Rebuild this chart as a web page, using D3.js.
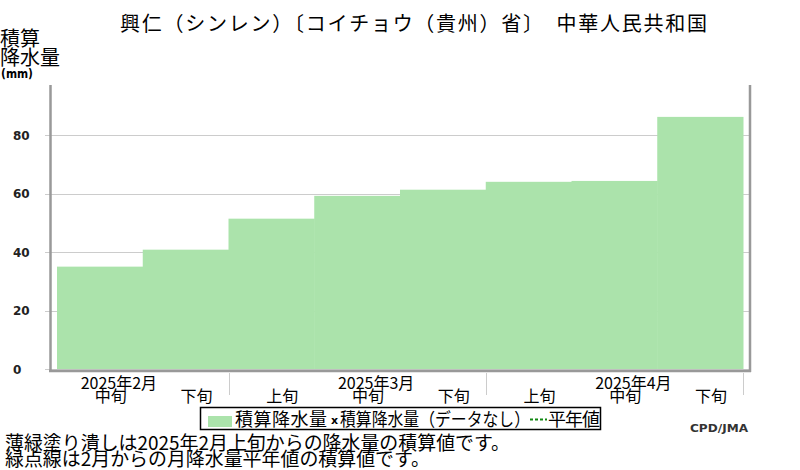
<!DOCTYPE html>
<html>
<head>
<meta charset="utf-8">
<script src="https://cdn.jsdelivr.net/npm/d3@7"></script>
<style>
  body { margin: 0; background: #fff; }
  svg { display: block; font-family: "Noto Sans CJK JP", sans-serif; }
</style>
</head>
<body>
<svg id="chart" width="800" height="470"></svg>
<script>
// data
const decadeIds = ["2-2", "2-3", "3-1", "3-2", "3-3", "4-1", "4-2", "4-3"];
const decadeLabels = ["中旬", "下旬", "上旬", "中旬", "下旬", "上旬", "中旬", "下旬"];
const monthLabels = ["2025年2月", "2025年3月", "2025年4月"];
const monthAt = ["2-2", "3-2", "4-2"];       // month label sits over the 中旬 bar
const monthStarts = ["3-1", "4-1"];          // separators
const precip = [35.0, 40.8, 51.4, 59.2, 61.3, 64.0, 64.3, 86.2];
const yTicks = [0, 20, 40, 60, 80];

const svg = d3.select("#chart");

const x = d3.scaleBand().domain(decadeIds).range([57, 743]).padding(0);
const y = d3.scaleLinear().domain([0, 97.1]).range([369, 85]);

// title
svg.append("text")
  .attr("x", 120).attr("y", 31)
  .attr("font-size", 20)
  .attr("textLength", 587).attr("lengthAdjust", "spacing")
  .text("興仁（シンレン）〔コイチョウ（貴州）省〕　中華人民共和国");

// y title
svg.append("text").attr("x", 0).attr("y", 46).attr("font-size", 20).text("積算");
svg.append("text").attr("x", 0).attr("y", 65).attr("font-size", 20).text("降水量");
svg.append("text").attr("x", 1).attr("y", 78)
  .attr("font-family", "DejaVu Sans").attr("font-weight", "bold")
  .attr("font-size", 12)
  .attr("textLength", 32).attr("lengthAdjust", "spacingAndGlyphs")
  .text("(mm)");

// grid + ticks
svg.append("g").selectAll("line")
  .data(yTicks)
  .enter().append("line")
  .attr("x1", 45).attr("x2", 749)
  .attr("y1", d => Math.round(y(d)) + 0.5)
  .attr("y2", d => Math.round(y(d)) + 0.5)
  .attr("stroke", "#cccccc").attr("stroke-width", 1);

svg.append("g").selectAll("text")
  .data(yTicks)
  .enter().append("text")
  .attr("x", 13)
  .attr("y", d => y(d) + 4.5)
  .attr("font-family", "DejaVu Sans").attr("font-weight", "bold")
  .attr("font-size", 12).attr("fill", "#222")
  .text(d => d);

// bars
svg.append("g").selectAll("rect")
  .data(precip)
  .enter().append("rect")
  .attr("x", (d, i) => x(decadeIds[i]))
  .attr("width", x.bandwidth() + 0.5)
  .attr("y", d => y(d))
  .attr("height", d => y(0) - y(d))
  .attr("fill", "#abe3ab");

// frame
const frame = svg.append("g").attr("stroke", "#999").attr("stroke-width", 2.5).attr("fill", "none");
frame.append("line").attr("x1", 50.5).attr("x2", 50.5).attr("y1", 85).attr("y2", 372);
frame.append("line").attr("x1", 750).attr("x2", 750).attr("y1", 85).attr("y2", 372);
frame.append("line").attr("x1", 49).attr("x2", 751).attr("y1", 371).attr("y2", 371);

// month separators
const seps = monthStarts.map(id => x(id)).concat([x.range()[1]]);
svg.append("g").selectAll("line")
  .data(seps)
  .enter().append("line")
  .attr("x1", d => Math.round(d) + 0.5).attr("x2", d => Math.round(d) + 0.5)
  .attr("y1", 373).attr("y2", 395)
  .attr("stroke", "#cccccc");

// x labels
svg.append("g").selectAll("text")
  .data(decadeLabels)
  .enter().append("text")
  .attr("x", (d, i) => x(decadeIds[i]) + x.bandwidth() / 2 + 11)
  .attr("y", 402)
  .attr("text-anchor", "middle")
  .attr("font-size", 16)
  .text(d => d);

svg.append("g").selectAll("text")
  .data(monthLabels)
  .enter().append("text")
  .attr("x", (d, i) => x(monthAt[i]) + x.bandwidth() / 2 + 19)
  .attr("y", 389)
  .attr("text-anchor", "middle")
  .attr("font-size", 16)
  .text(d => d);

// legend
const lg = svg.append("g");
lg.append("rect").attr("x", 200.5).attr("y", 407.5).attr("width", 400).attr("height", 22)
  .attr("fill", "#fff").attr("stroke", "#000").attr("stroke-width", 1.5);
lg.append("rect").attr("x", 208).attr("y", 416).attr("width", 24).attr("height", 11).attr("fill", "#abe3ab");
lg.append("text").attr("x", 235).attr("y", 426).attr("font-size", 18)
  .attr("textLength", 92).attr("lengthAdjust", "spacing").text("積算降水量");
lg.append("text").attr("x", 331).attr("y", 424).attr("font-size", 11)
  .attr("font-family", "DejaVu Sans").attr("font-weight", "bold").text("x");
lg.append("text").attr("x", 340).attr("y", 426).attr("font-size", 18)
  .attr("textLength", 190).attr("lengthAdjust", "spacingAndGlyphs").text("積算降水量（データなし）");
lg.append("line").attr("x1", 530).attr("x2", 547).attr("y1", 419.5).attr("y2", 419.5)
  .attr("stroke", "#118811").attr("stroke-width", 2).attr("stroke-dasharray", "3,2");
lg.append("text").attr("x", 548).attr("y", 426).attr("font-size", 18)
  .attr("textLength", 52).attr("lengthAdjust", "spacing").text("平年値");

// credit
svg.append("text").attr("x", 690).attr("y", 432)
  .attr("font-family", "DejaVu Sans").attr("font-weight", "bold")
  .attr("font-size", 10).attr("fill", "#333")
  .attr("textLength", 58).attr("lengthAdjust", "spacingAndGlyphs")
  .text("CPD/JMA");

// notes
svg.append("text").attr("x", 5).attr("y", 450).attr("font-size", 19)
  .attr("textLength", 505).attr("lengthAdjust", "spacingAndGlyphs")
  .text("薄緑塗り潰しは2025年2月上旬からの降水量の積算値です。");
svg.append("text").attr("x", 5).attr("y", 466).attr("font-size", 19)
  .attr("textLength", 425).attr("lengthAdjust", "spacingAndGlyphs")
  .text("緑点線は2月からの月降水量平年値の積算値です。");
</script>
</body>
</html>
